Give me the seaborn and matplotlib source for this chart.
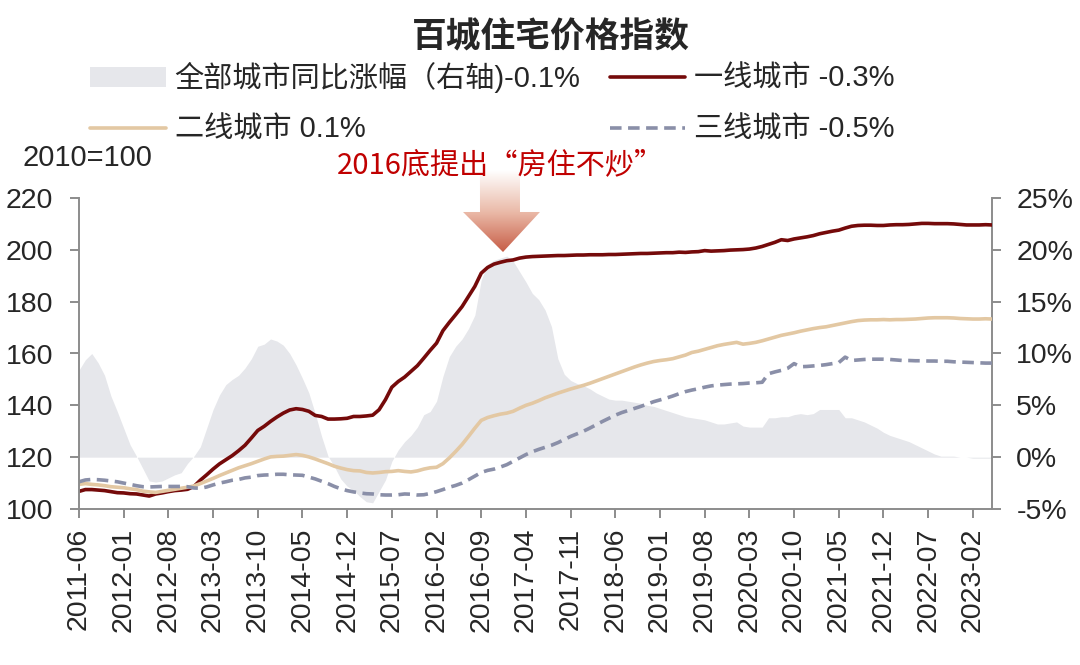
import numpy as np
import pandas as pd
import seaborn as sns
import matplotlib
matplotlib.use("Agg")
import matplotlib.pyplot as plt
from matplotlib.patches import Polygon, Patch
from matplotlib.lines import Line2D
from matplotlib.colors import LinearSegmentedColormap
from matplotlib.ticker import FuncFormatter

# monthly data, 2011-06 .. 2023-05
months = pd.date_range("2011-06-01", periods=144, freq="MS")

tier1 = [
    106.8, 107.5, 107.5, 107.3, 107.1, 106.7, 106.3, 106.2, 105.9, 105.8,
    105.4, 105.0, 105.8, 106.2, 106.7, 107.1, 107.3, 107.6, 108.7, 111.1,
    113.2, 115.4, 117.4, 119.0, 120.6, 122.5, 124.6, 127.4, 130.3, 131.9,
    133.8, 135.5, 137.0, 138.2, 138.7, 138.4, 137.7, 136.1, 135.7, 134.7,
    134.7, 134.8, 135.0, 135.7, 135.7, 135.9, 136.2, 138.3, 142.2, 147.0,
    149.2, 150.9, 153.1, 155.3, 158.2, 161.2, 164.0, 168.8, 172.0, 175.0,
    178.1, 182.0, 185.9, 191.0, 193.2, 194.5, 195.2, 195.8, 196.1, 196.8,
    197.2, 197.4,
    197.5, 197.6, 197.7, 197.8, 197.8, 197.9, 198.0, 198.0, 198.1, 198.1,
    198.1, 198.2, 198.2, 198.3, 198.4, 198.5, 198.6, 198.6, 198.7, 198.8,
    198.9, 198.9, 199.1, 199.0, 199.2, 199.3, 199.7, 199.5, 199.6, 199.7,
    199.9, 200.0, 200.1, 200.3, 200.7, 201.3, 202.1, 202.9, 203.9, 203.6,
    204.2, 204.6, 205.0, 205.5, 206.2, 206.7, 207.2, 207.6, 208.4, 209.1,
    209.4, 209.5, 209.5, 209.4, 209.4, 209.6, 209.7, 209.7, 209.8, 210.0,
    210.2, 210.2, 210.1, 210.1, 210.1, 210.0, 209.8, 209.6, 209.6, 209.6,
    209.7, 209.6,
]

tier2 = [
    109.5, 109.8, 109.5, 109.3, 109.0, 108.6, 108.4, 108.2, 107.8, 107.5,
    106.9, 106.6, 106.4, 106.8, 107.2, 107.6, 108.0, 108.4, 108.9, 109.8,
    110.8, 111.8, 112.9, 113.9, 114.9, 115.9, 116.7, 117.5, 118.4, 119.3,
    120.1, 120.3, 120.4, 120.7, 121.0, 120.7, 120.1, 119.3, 118.4, 117.5,
    116.5, 115.8, 115.2, 114.8, 114.7, 114.1, 113.9, 114.1, 114.4, 114.5,
    114.8, 114.5, 114.3, 114.7, 115.4, 115.9, 116.1, 117.5, 119.7, 122.2,
    124.9, 128.0, 131.2, 134.2, 135.3, 136.0, 136.6, 137.0, 137.7, 138.9,
    140.0, 140.8,
    141.8, 142.9, 143.8, 144.7, 145.5, 146.3, 147.0, 147.7, 148.5, 149.4,
    150.3, 151.2, 152.1, 153.0, 153.9, 154.8, 155.6, 156.3, 156.9, 157.3,
    157.6, 158.0, 158.7, 159.4, 160.4, 160.9, 161.6, 162.3, 163.0, 163.5,
    163.9, 164.3, 163.6, 163.9, 164.3, 164.9, 165.6, 166.3, 167.0, 167.5,
    168.0, 168.6, 169.1, 169.6, 170.0, 170.3, 170.8, 171.3, 171.8, 172.3,
    172.7, 172.9, 173.0, 173.0, 173.1, 173.0, 173.1, 173.1, 173.2, 173.3,
    173.5, 173.7, 173.8, 173.8, 173.8, 173.7, 173.5, 173.4, 173.3, 173.3,
    173.4, 173.3,
]

tier3 = [
    110.5, 111.2, 111.4, 111.3, 111.1, 110.8, 110.5, 110.0, 109.5, 109.0,
    108.6, 108.5, 108.6, 108.7, 108.7, 108.7, 108.7, 108.6, 108.1, 108.0,
    108.5, 109.3, 110.0, 110.5, 111.1, 111.4, 112.0, 112.3, 112.9, 113.1,
    113.2, 113.4, 113.4, 113.2, 113.1, 113.0, 112.3, 111.6, 110.7, 109.8,
    108.7, 107.8, 107.1, 106.6, 106.2, 105.9, 105.8, 105.5, 105.4, 105.4,
    105.5, 105.8, 105.7, 105.4, 105.5, 106.0, 106.7, 107.5, 108.4, 109.1,
    110.0, 111.3, 112.7, 114.1, 114.9, 115.4, 116.2, 117.1, 118.4, 119.7,
    121.0, 122.1,
    123.0, 123.8, 124.6, 125.6, 126.8, 128.0, 129.0, 130.0, 131.2, 132.5,
    133.8, 135.0, 136.2, 137.2, 138.0, 138.8, 139.6, 140.5, 141.4, 142.1,
    142.8, 143.6, 144.5, 145.3, 145.9, 146.4, 147.0, 147.5, 147.8, 148.0,
    148.2, 148.3, 148.4, 148.6, 148.7, 148.9, 152.2, 152.9, 153.5, 154.3,
    156.1, 154.9, 155.0, 155.2, 155.4, 155.7, 156.1, 156.5, 158.6, 157.3,
    157.5, 157.7, 157.8, 157.8, 157.8, 157.7, 157.5, 157.3, 157.3, 157.2,
    157.2, 157.1, 157.1, 157.0, 157.0, 156.8, 156.7, 156.6, 156.5, 156.4,
    156.3, 156.3,
]

# all-city YoY change, % (right axis)
yoy = [
    8.4, 9.4, 10.0, 9.1, 7.9, 5.9, 4.4, 2.8, 1.2, 0.1,
    -1.1, -2.3, -2.4, -2.3, -2.0, -1.7, -1.5, -0.6, 0.1, 1.0,
    2.8, 4.6, 6.0, 7.0, 7.5, 7.9, 8.6, 9.5, 10.7, 10.9,
    11.4, 11.2, 10.8, 10.0, 8.9, 7.6, 6.2, 4.2, 2.0, 0.1,
    -0.9, -2.1, -2.8, -3.2, -3.8, -4.3, -4.4, -3.3, -2.2, -0.4,
    0.7, 1.5, 2.1, 2.9, 4.1, 4.4, 5.4, 7.8, 9.7, 10.7,
    11.4, 12.4, 13.7, 17.1, 18.6, 19.0, 19.2, 19.4, 18.9, 17.9,
    16.9, 15.8,
    15.2, 14.2, 12.6, 9.5, 8.0, 7.4, 7.1, 6.9, 6.6, 6.2,
    5.9, 5.6, 5.5, 5.5, 5.4, 5.3, 5.2, 5.0, 4.9, 4.7,
    4.5, 4.3, 4.1, 3.9, 3.8, 3.7, 3.6, 3.4, 3.2, 3.2,
    3.3, 3.4, 3.0, 2.9, 2.9, 2.9, 3.8, 3.8, 3.9, 3.9,
    4.1, 4.2, 4.1, 4.2, 4.6, 4.6, 4.6, 4.6, 3.8, 3.8,
    3.6, 3.4, 3.1, 2.8, 2.4, 2.1, 1.9, 1.7, 1.5, 1.2,
    0.9, 0.6, 0.3, 0.1, 0.1, 0.1, 0.0, 0.0, -0.1, -0.1,
    -0.1, -0.1,
]

labels = ["全部城市同比涨幅（右轴)-0.1%", "二线城市 0.1%", "一线城市 -0.3%", "三线城市 -0.5%"]

df = pd.DataFrame({"i": np.arange(len(months)), "tier1": tier1, "tier2": tier2,
                   "tier3": tier3, "yoy": yoy})

RED = "#750a0a"
TAN = "#e3c8a3"
BLUE = "#8a8fa8"
AREA = "#e6e7eb"
GRAY = "#8c8c8c"

sns.set_theme(style="white")
plt.rcParams["font.family"] = ["Liberation Sans", "Noto Sans CJK SC"]
plt.rcParams["axes.unicode_minus"] = False

fig = plt.figure(figsize=(10.8, 6.65), dpi=100)
ax = fig.add_axes([79 / 1080, 1 - 509 / 665, 913 / 1080, 311 / 665])
ax2 = ax.twinx()
ax.set_zorder(ax2.get_zorder() + 1)
ax.patch.set_visible(False)

# area on right axis
ax2.fill_between(df["i"], 0, df["yoy"], color=AREA, lw=0)
ax2.set_ylim(-5, 25)
ax2.set_yticks(range(-5, 26, 5))
ax2.yaxis.set_major_formatter(FuncFormatter(lambda v, p: f"{v:.0f}%"))

sns.lineplot(data=df, x="i", y="tier1", ax=ax, color=RED, lw=2.6)
sns.lineplot(data=df, x="i", y="tier2", ax=ax, color=TAN, lw=2.6)
sns.lineplot(data=df, x="i", y="tier3", ax=ax, color=BLUE, lw=2.6, linestyle=(0, (3.2, 1.8)))

ax.set_xlim(0, len(months) - 1)
ax.set_ylim(100, 220)
ax.set_yticks(range(100, 221, 20))
ax.set_xticks(df["i"][::7])
ax.set_xticklabels(months[::7].strftime("%Y-%m"), rotation=90)
ax.set_xlabel("")
ax.set_ylabel("")

for a in (ax, ax2):
    for s in a.spines.values():
        s.set_visible(False)
ax.spines["left"].set_visible(True)
ax.spines["bottom"].set_visible(True)
ax2.spines["right"].set_visible(True)
for s in (ax.spines["left"], ax.spines["bottom"], ax2.spines["right"]):
    s.set_color(GRAY)
    s.set_linewidth(1.4)

ax.tick_params(axis="y", left=True, direction="out", length=6.5, width=1.4, color=GRAY,
               labelsize=20.5, pad=12)
ax.tick_params(axis="x", bottom=True, direction="out", length=6.5, width=1.4, color=GRAY,
               labelsize=20.5, pad=7)
ax2.tick_params(axis="y", right=True, direction="out", length=6.5, width=1.4, color=GRAY,
                labelsize=20.5, pad=11)

# titles and notes
fig.text(551 / 1080, 1 - 38 / 665, "百城住宅价格指数", ha="center", va="center",
         fontsize=25, fontweight="bold")
fig.text(22 / 1080, 1 - 158 / 665, "2010=100", ha="left", va="center", fontsize=21)
fig.text(500 / 1080, 1 - 165 / 665, "2016底提出“房住不炒”", ha="center", va="center",
         fontsize=21, color="#c00000", family=["Noto Sans CJK SC", "DejaVu Sans"])

# gradient arrow
axa = fig.add_axes([460 / 1080, 1 - 255 / 665, 84 / 1080, 85 / 665])
axa.set_xlim(0, 1)
axa.set_ylim(0, 1)
axa.axis("off")
cmap = LinearSegmentedColormap.from_list(
    "arr", [(0, "#c4563f"), (0.5, "#eab9a7"), (1, "#ffffff")])
grad = np.linspace(0, 1, 256).reshape(-1, 1)
im = axa.imshow(grad, cmap=cmap, extent=[0, 1, 0, 1], origin="lower", aspect="auto")
arrow = Polygon([(0.238, 1.0), (0.714, 1.0), (0.714, 0.506), (0.952, 0.506),
                 (0.512, 0.035), (0.036, 0.506), (0.238, 0.506)],
                closed=True, facecolor="none", edgecolor="none")
axa.add_patch(arrow)
im.set_clip_path(arrow)

# legend
handles = [
    Patch(facecolor=AREA, edgecolor="none"),
    Line2D([], [], color=TAN, lw=2.6),
    Line2D([], [], color=RED, lw=2.6),
    Line2D([], [], color=BLUE, lw=2.6, linestyle=(0, (3.2, 1.8))),
]
fig.legend(handles, labels, ncol=2, loc="upper left", bbox_to_anchor=(90 / 1080, 1 - 62 / 665),
           frameon=False, fontsize=21, handlelength=2.6, handletextpad=0.3,
           columnspacing=1.0, labelspacing=0.78, borderpad=0, borderaxespad=0)

fig.savefig("out.png", dpi=100)
